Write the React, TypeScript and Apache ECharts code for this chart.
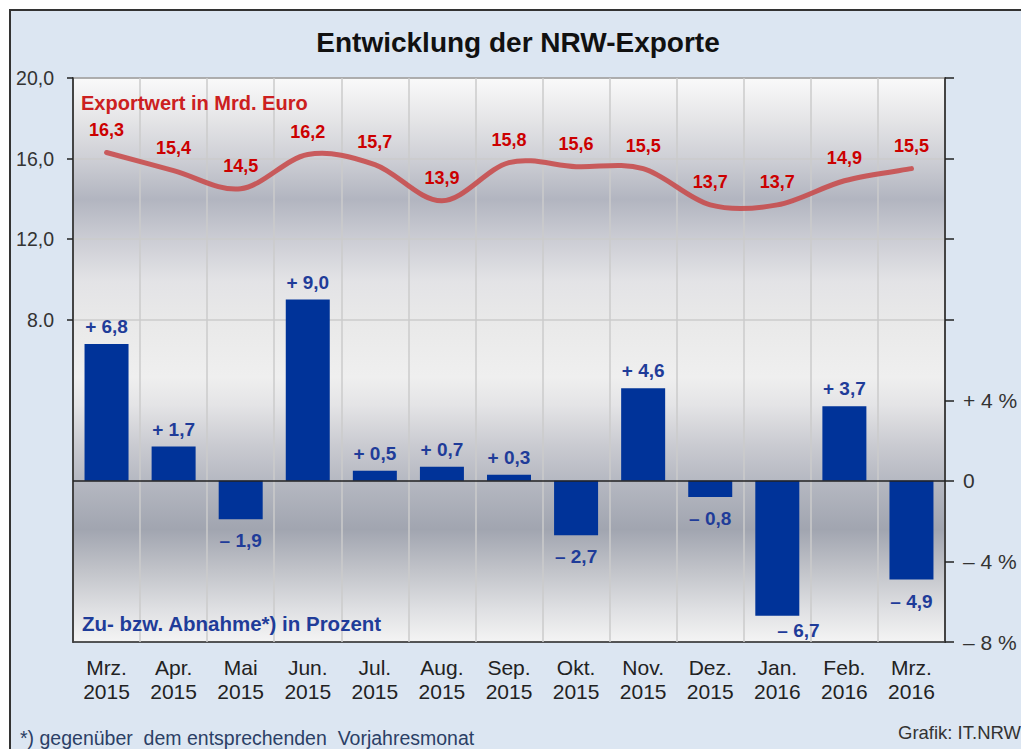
import React, { useEffect, useRef } from "react";
import * as echarts from "echarts";

const categories = [
  "Mrz.\n2015", "Apr.\n2015", "Mai\n2015", "Jun.\n2015", "Jul.\n2015", "Aug.\n2015",
  "Sep.\n2015", "Okt.\n2015", "Nov.\n2015", "Dez.\n2015", "Jan.\n2016", "Feb.\n2016", "Mrz.\n2016",
];
const exportValues = [16.3, 15.4, 14.5, 16.2, 15.7, 13.9, 15.8, 15.6, 15.5, 13.7, 13.7, 14.9, 15.5];
const changeValues = [6.8, 1.7, -1.9, 9.0, 0.5, 0.7, 0.3, -2.7, 4.6, -0.8, -6.7, 3.7, -4.9];
const leftTickValues = [8, 12, 16, 20];
const leftTickLabels = ["8.0", "12,0", "16,0", "20,0"];
const rightTickValues = [-8, -4, 0, 4];
const rightTickLabels = ["\u2013 8 %", "\u2013 4 %", "0", "+ 4 %"];
const rightTickMarks = [-8, -4, 0, 4, 8, 12, 16, 20];

const FONT = "'Liberation Sans', Arial, sans-serif";

const fmt = (v: number) => Math.abs(v).toFixed(1).replace(".", ",");

function catmullRomPath(pts: number[][]): string {
  if (!pts.length) return "";
  let d = `M${pts[0][0]},${pts[0][1]}`;
  for (let i = 0; i < pts.length - 1; i++) {
    const p0 = pts[i - 1] || pts[i];
    const p1 = pts[i];
    const p2 = pts[i + 1];
    const p3 = pts[i + 2] || p2;
    const c1x = p1[0] + (p2[0] - p0[0]) / 6;
    const c1y = p1[1] + (p2[1] - p0[1]) / 6;
    const c2x = p2[0] - (p3[0] - p1[0]) / 6;
    const c2y = p2[1] - (p3[1] - p1[1]) / 6;
    d += ` C${c1x},${c1y} ${c2x},${c2y} ${p2[0]},${p2[1]}`;
  }
  return d;
}

export default function App() {
  const ref = useRef<HTMLDivElement>(null);
  useEffect(() => {
    if (!ref.current) return;
    const chart = echarts.init(ref.current, null, { renderer: "svg" });
    const option: any = {
      animation: false,
      backgroundColor: "#ffffff",
      textStyle: { fontFamily: FONT },
      grid: {
        left: 73,
        top: 78,
        right: 76,
        bottom: 107,
        show: true,
        borderColor: "#222",
        borderWidth: 1.5,
        backgroundColor: {
          type: "linear",
          x: 0, y: 0, x2: 0, y2: 1,
          colorStops: [
            { offset: 0, color: "#fafafa" },
            { offset: 0.07, color: "#e6e6e8" },
            { offset: 0.14, color: "#cfd0d6" },
            { offset: 0.215, color: "#b2b5c0" },
            { offset: 0.29, color: "#cdced5" },
            { offset: 0.36, color: "#e3e3e6" },
            { offset: 0.43, color: "#e9e9e9" },
            { offset: 0.53, color: "#efefef" },
            { offset: 0.58, color: "#e4e4e6" },
            { offset: 0.65, color: "#cacbd1" },
            { offset: 0.712, color: "#b6b9c2" },
            { offset: 0.8, color: "#a1a5b0" },
            { offset: 0.87, color: "#c0c2c8" },
            { offset: 0.94, color: "#dedfe2" },
            { offset: 1, color: "#f4f4f4" },
          ],
        },
      },
      xAxis: {
        type: "category",
        data: categories,
        boundaryGap: true,
        axisLine: { show: false },
        axisTick: { show: false },
        splitLine: { show: true, lineStyle: { color: "#cbcbcb", width: 1.5 } },
        axisLabel: {
          color: "#222",
          fontSize: 21,
          lineHeight: 24,
          margin: 13,
          interval: 0,
          fontFamily: FONT,
        },
      },
      yAxis: [
        {
          type: "value",
          position: "left",
          min: -8,
          max: 20,
          interval: 2,
          axisLine: { show: true, lineStyle: { color: "#222", width: 1.5 } },
          axisTick: {
            show: true,
            inside: false,
            length: 6,
            customValues: leftTickValues,
            lineStyle: { color: "#222", width: 1.5 },
          },
          axisLabel: {
            customValues: leftTickValues,
            formatter: (v: number) => leftTickLabels[leftTickValues.indexOf(v)] ?? "",
            color: "#333",
            fontSize: 19.5,
            margin: 19,
            fontFamily: FONT,
          },
          splitLine: { show: true, lineStyle: { color: "#cbcbcb", width: 1.5 } },
        },
        {
          type: "value",
          position: "right",
          min: -8,
          max: 20,
          interval: 2,
          axisLine: { show: true, lineStyle: { color: "#222", width: 1.5 } },
          axisTick: {
            show: true,
            inside: false,
            length: 9,
            customValues: rightTickMarks,
            lineStyle: { color: "#222", width: 1.5 },
          },
          axisLabel: {
            customValues: rightTickValues,
            formatter: (v: number) => rightTickLabels[rightTickValues.indexOf(v)] ?? "",
            color: "#333",
            fontSize: 21,
            margin: 18,
            fontFamily: FONT,
          },
          splitLine: { show: false },
        },
      ],
      series: [
        {
          type: "bar",
          yAxisIndex: 0,
          barWidth: 44,
          data: changeValues.map((v) => ({
            value: v,
            label: { position: v < 0 ? "bottom" : "top", distance: v < 0 ? 12 : 8 },
          })),
          itemStyle: { color: "#003399" },
          label: {
            show: true,
            color: "#1f3c99",
            fontWeight: "bold",
            fontSize: 19,
            fontFamily: FONT,
            formatter: (p: any) => (p.value < 0 ? "\u2013 " : "+ ") + fmt(p.value),
          },
          labelLayout: (p: any) => {
            const r = p.labelRect;
            if (r && r.y + r.height > 638) {
              return { y: 630 - r.height / 2 };
            }
            return {};
          },
          markLine: {
            silent: true,
            symbol: "none",
            label: { show: false },
            lineStyle: { color: "#222", width: 1.5, type: "solid" },
            data: [{ yAxis: 0 }],
          },
          z: 3,
        },
        {
          type: "custom",
          coordinateSystem: "cartesian2d",
          yAxisIndex: 0,
          data: exportValues.map((v, i) => [i, v]),
          silent: true,
          z: 4,
          renderItem: (params: any, api: any) => {
            if (params.dataIndex !== 0) return null;
            const pts = exportValues.map((v, i) => api.coord([i, v]));
            return {
              type: "path",
              shape: { pathData: catmullRomPath(pts) },
              style: {
                fill: "none",
                stroke: "rgba(200,70,70,0.85)",
                lineWidth: 5,
                lineCap: "round",
                lineJoin: "round",
              },
            };
          },
        },
        {
          type: "line",
          yAxisIndex: 0,
          data: exportValues,
          symbol: "circle",
          symbolSize: 1,
          itemStyle: { color: "rgba(0,0,0,0)" },
          lineStyle: { opacity: 0, width: 0 },
          label: {
            show: true,
            position: "top",
            distance: 13,
            color: "#cc0000",
            fontWeight: "bold",
            fontSize: 18,
            fontFamily: FONT,
            formatter: (p: any) => fmt(p.value),
          },
          z: 5,
        },
      ],
      graphic: [
        {
          type: "rect",
          z: -10,
          silent: true,
          shape: { x: 10, y: 10, width: 1030, height: 760 },
          style: { fill: "#dce6f2", stroke: "#333", lineWidth: 2 },
        },
        {
          type: "text",
          z: 100,
          x: 518,
          y: 42,
          style: {
            text: "Entwicklung der NRW-Exporte",
            fill: "#111",
            font: `bold 28px ${FONT}`,
            align: "center",
            verticalAlign: "middle",
          },
        },
        {
          type: "text",
          z: 100,
          x: 81,
          y: 103,
          style: {
            text: "Exportwert in Mrd. Euro",
            fill: "#cc2020",
            font: `bold 20px ${FONT}`,
            align: "left",
            verticalAlign: "middle",
          },
        },
        {
          type: "text",
          z: 100,
          x: 82,
          y: 623,
          style: {
            text: "Zu- bzw. Abnahme*) in Prozent",
            fill: "#1f3c99",
            font: `bold 20.5px ${FONT}`,
            align: "left",
            verticalAlign: "middle",
          },
        },
        {
          type: "text",
          z: 100,
          x: 20,
          y: 738,
          style: {
            text: "*) gegenüber  dem entsprechenden  Vorjahresmonat",
            fill: "#2b3f66",
            font: `19.5px ${FONT}`,
            align: "left",
            verticalAlign: "middle",
          },
        },
        {
          type: "text",
          z: 100,
          x: 898,
          y: 732,
          style: {
            text: "Grafik: IT.NRW",
            fill: "#333",
            font: `18.5px ${FONT}`,
            align: "left",
            verticalAlign: "middle",
          },
        },
      ],
    };
    chart.setOption(option);
    return () => chart.dispose();
  }, []);
  return (
    <div
      ref={ref}
      style={{ position: "fixed", left: 0, top: 0, width: 1021, height: 749 }}
    />
  );
}
